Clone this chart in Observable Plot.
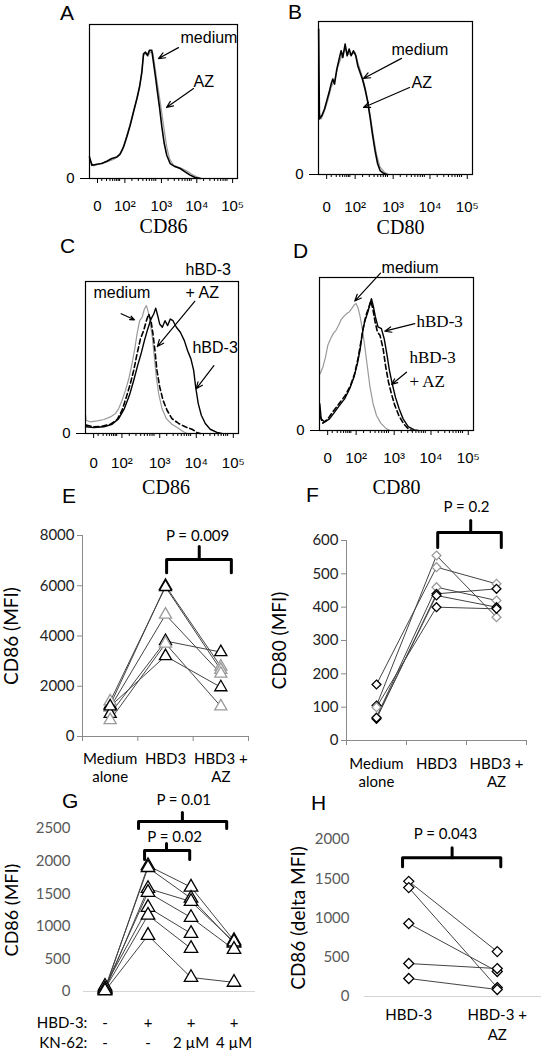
<!DOCTYPE html>
<html><head><meta charset="utf-8">
<script src="https://cdn.jsdelivr.net/npm/d3@7"></script>
<script src="https://cdn.jsdelivr.net/npm/@observablehq/plot@0.6"></script>
<style>
body{margin:0;background:#fff;}
#fig{position:relative;width:542px;height:1050px;overflow:hidden;background:#fff;}
.panel{position:absolute;}
.letter{position:absolute;font-family:"Liberation Sans",Arial,sans-serif;font-size:21px;line-height:1;color:#000;}
</style></head><body><div id="fig"></div><script>
const K = "#000", GR = "#9a9a9a";
const SANS = "'Liberation Sans', Arial, sans-serif";
const SERIF = "'Liberation Serif', 'Times New Roman', serif";
const CAL = "Lato, 'Open Sans', sans-serif";

// ---- flow histogram axis (channel units 0-1000, display decades) ----
const majorTicks = [27, 212, 459, 698, 940];
const majorLabels = ["0", "10\u00B2", "10\u00B3", "10\u2074", "10\u2075"];

// ---- histogram curves: [channel, % of max] ----
const aMedium = [[0,14],[16,8.6],[50,9.3],[83,9.7],[117,11.2],[151,13],[185,14],[207,15.8],[230,20.5],[252,27],[275,34.6],[297,43.2],[320,51.8],[338,59.4],[354,69],[365,81],[378,82],[392,80],[405,83.2],[421,83.2],[432,75.6],[446,65.9],[459,56.2],[473,46.4],[489,33.5],[505,22.7],[522,15.1],[545,9.7],[572,8],[613,6.5],[646,4.3],[680,2.2],[714,0.6],[748,0]];
const aAZ = [[2,11.9],[27,8.2],[72,9.7],[117,10.8],[162,12.3],[196,14.5],[225,19.4],[252,28],[279,36.7],[306,46.4],[329,55],[347,64.8],[365,80],[381,81],[394,79.3],[410,82],[428,81.4],[441,73.4],[455,63.7],[471,54],[486,44.3],[505,31.3],[522,20.5],[540,13],[568,8.6],[613,6.9],[658,4.8],[691,2.8],[725,1.1],[759,0]];
const bMedium = [[1,95],[6,36.3],[22,38.5],[39,42.8],[54,48.3],[69,53.7],[82,59.1],[93,62.4],[104,59.1],[119,68.9],[134,75.4],[147,80.9],[158,76.5],[173,85.2],[186,77.6],[199,82],[212,77.6],[227,80.9],[242,77.6],[255,71.1],[270,66.7],[285,62.4],[302,55.9],[318,48.3],[335,37.4],[350,26.5],[367,15.7],[384,7],[400,2.6],[421,0.9],[443,0]];
const bAZ = [[2,41.7],[17,36.3],[39,41.7],[60,48.3],[82,57],[104,61.3],[125,70],[147,76.5],[173,82],[194,78.7],[216,78.7],[238,79.8],[255,73.3],[276,66.7],[298,59.1],[320,48.3],[341,35.2],[361,22.2],[378,12.4],[400,4.8],[428,1.5],[454,0]];
const cMedium = [[1,12],[4,8.7],[33,7.6],[76,8.3],[120,9.2],[163,10.9],[196,13.1],[217,16.4],[239,21.8],[261,28.4],[283,36],[304,45.9],[322,55.7],[337,65.5],[354,74.2],[370,76.4],[385,81.9],[398,84.1],[411,79.7],[424,72],[437,63.3],[450,50.2],[463,37.1],[478,26.2],[500,16.4],[528,9.8],[565,6.1],[609,3.3],[641,1.1],[663,0]];
const cHBD3AZ = [[4,5.5],[54,4.4],[109,4.8],[163,6.1],[207,9.2],[239,15.3],[267,24],[293,32.8],[315,41.5],[337,52.4],[359,62.2],[380,67.7],[398,74.2],[413,78.6],[428,74.2],[441,65.5],[454,54.6],[467,41.5],[485,30.6],[507,21.8],[533,15.3],[565,9.8],[609,6.6],[652,4.4],[696,2.8],[733,0.4],[750,0]];
const cHBD3 = [[4,4.4],[54,3.9],[120,4.4],[174,6.1],[217,9.8],[254,16.4],[287,25.1],[315,34.9],[341,44.8],[363,52.4],[385,61.1],[407,68.8],[428,75.3],[446,78.6],[459,82.5],[472,77.5],[485,72],[502,69.9],[520,74.2],[537,71],[554,75.3],[572,74.2],[594,69.9],[620,66.6],[646,61.1],[667,54.6],[689,49.1],[707,41.5],[720,30.6],[737,19.7],[757,12],[783,6.6],[815,2.8],[859,0.7],[891,0]];
const dMedium = [[4,37.1],[22,41.5],[39,48],[54,55.7],[72,60],[89,63.3],[107,65.5],[124,68.8],[141,72.5],[159,74.7],[176,76.4],[193,77.5],[209,79.7],[224,81.9],[237,83],[250,80.3],[263,74.7],[278,66.6],[293,55.7],[311,41.5],[328,28.4],[348,17.5],[370,9.8],[398,4.8],[428,1.7],[457,0]];
const dHBD3 = [[2,17.5],[11,7.6],[33,5.5],[65,7.6],[98,12],[130,16.4],[163,20.7],[196,27.3],[224,34.9],[246,43.7],[263,52.4],[278,63.3],[293,71],[311,76.4],[326,81.9],[337,86.2],[348,81.9],[363,74.2],[380,67.7],[402,66.6],[420,60],[437,50.2],[454,39.3],[472,30.6],[493,21.8],[517,14.2],[543,7.6],[576,2.6],[615,0.4],[641,0]];
const dHBD3AZ = [[2,9.8],[22,4.8],[54,7.6],[93,13.1],[130,17.9],[167,22.9],[202,29.5],[228,37.1],[250,47],[267,56.8],[285,67.7],[302,75.3],[320,80.3],[333,84.7],[346,79.7],[361,71],[376,64.4],[393,62.2],[413,53.5],[430,41.5],[448,31.7],[467,24],[489,16.4],[515,9.8],[546,4.4],[576,1.1],[598,0]];

// ---- histogram annotations (channel, %) ----
const aTexts = [{ch:615,pct:91.4,label:"medium",font:"sans"},{ch:703,pct:62.8,label:"AZ",font:"sans"}];
const aArrows = [{x1:601,y1:85,x2:466,y2:77.9},{x1:703,y1:58.4,x2:520,y2:46.1}];
const bTexts = [{ch:474,pct:81.6,label:"medium",font:"sans"},{ch:604,pct:60,label:"AZ",font:"sans"}];
const bArrows = [{x1:539,y1:75.9,x2:292,y2:62.8},{x1:591,y1:56.9,x2:292,y2:43.8}];
const cTexts = [{ch:654,pct:107.7,label:"hBD-3",font:"sans"},{ch:654,pct:92.6,label:"+ AZ",font:"sans"},{ch:52,pct:92.6,label:"medium",font:"sans"},{ch:699,pct:56.4,label:"hBD-3",font:"sans"}];
const cArrows = [{x1:233,y1:78.8,x2:320,y2:74.8},{x1:714,y1:87,x2:469,y2:57.2},{x1:839,y1:44.7,x2:723,y2:29.4}];
const dTexts = [{ch:403,pct:106.4,label:"medium",font:"sans"},{ch:630,pct:71.1,label:"hBD-3",font:"serif"},{ch:584,pct:47.5,label:"hBD-3",font:"serif"},{ch:584,pct:31.8,label:"+ AZ",font:"serif"}];
const dArrows = [{x1:396,y1:102.9,x2:229,y2:84.6},{x1:619,y1:69.8,x2:424,y2:64.9},{x1:565,y1:38.1,x2:468,y2:30.1}];

// ---- panel E ----
const eCats = ["Medium\nalone", "HBD3", "HBD3 +\nAZ"];
const eMedium = [1250, 1400, 1150, 900, 650, 1200];
const eHBD3 = [6000, 5950, 4850, 3800, 3700, 3200];
const eAZ = [2780, 2650, 2500, 3360, 1200, 1960];
const eMedColor = [K, GR, GR, K, GR, K];
const eHBD3Color = [K, K, GR, K, GR, K];
const eAZColor = [GR, GR, GR, K, GR, K];
const eYTicks = [0, 2000, 4000, 6000, 8000];
// ---- panel F ----
const fCats = ["Medium\nalone", "HBD3", "HBD3 +\nAZ"];
const fMedium = [168, 105, 70, 65, 68, 100];
const fHBD3 = [520, 555, 460, 440, 435, 400];
const fAZ = [470, 370, 420, 455, 400, 395];
const fMedColor = [K, K, GR, K, K, GR];
const fHBD3Color = [GR, GR, GR, K, K, K];
const fAZColor = [GR, GR, GR, K, K, K];
const fYTicks = [0, 100, 200, 300, 400, 500, 600];
// ---- panel G ----
const gCats = ["-\n-", "+\n-", "+\n2 \u00B5M", "+\n4 \u00B5M"];
const gRowHeads = "HBD-3:\nKN-62:";
const gNone = [30, 50, 20, 60, 80, 40, 10];
const gHBD3 = [1930, 1900, 1580, 1520, 1290, 1170, 860];
const g2uM = [1600, 1430, 1380, 1135, 890, 660, 215];
const g4uM = [780, 740, 760, 645, null, null, 140];
const gYTicks = [0, 500, 1000, 1500, 2000, 2500];
// ---- panel H ----
const hCats = ["HBD-3", "HBD-3 +\nAZ"];
const hHBD3 = [1467, 1387, 929, 420, 229];
const hAZ = [572, 114, 318, 356, 89];
const hYTicks = [0, 500, 1000, 1500, 2000];

// ---- significance brackets ----
const eBrackets = [{x1:1.02,x2:2.19,xs:1.61,yH:7040,yEnd:6520,yStub:7560,px:1.58,py:7960,label:"P = 0.009"}];
const fBrackets = [{x1:1.02,x2:2.08,xs:1.57,yH:624,yEnd:579,yStub:660,px:1.5,py:699,label:"P = 0.2"}];
const gBrackets = [{x1:0.78,x2:2.83,xs:1.80,yH:2608,yEnd:2500,yStub:2746,px:1.83,py:2930,label:"P = 0.01"},
                   {x1:0.92,x2:1.97,xs:1.43,yH:2163,yEnd:2025,yStub:2270,px:1.62,py:2362,label:"P = 0.02"}];
const hBrackets = [{x1:-0.07,x2:1.04,xs:0.49,yH:1768,yEnd:1654,yStub:1895,px:0.415,py:2073,label:"P = 0.043"}];

// ================= helpers =================
const minorTicks = [];
for (let i = 0; i < majorTicks.length - 1; i++) {
  const a = majorTicks[i], w = majorTicks[i+1] - a;
  for (let m = 2; m <= 9; m++) minorTicks.push(a + w * Math.log10(m));
}
const fig = document.getElementById("fig");
function place(node, left, top, w) {
  const div = document.createElement("div");
  div.className = "panel";
  div.style.left = left + "px"; div.style.top = top + "px"; div.style.width = w + "px";
  div.appendChild(node); fig.appendChild(div);
}

function hist(o) {
  const labelOf = new Map(majorTicks.map((t, i) => [t, majorLabels[i]]));
  const marks = [
    Plot.axisX({ticks: minorTicks, tickSize: 3, tickFormat: () => ""}),
    Plot.axisX({ticks: majorTicks, tickSize: 5, tickPadding: o.tickPad, tickFormat: d => labelOf.get(d), dx: 4, fontSize: 15}),
    Plot.axisY({ticks: [0], tickSize: 9, tickPadding: 6, tickFormat: () => "0", fontSize: 15}),
    ...o.curves.map(c => Plot.line(c.data, {stroke: c.stroke, strokeWidth: c.width, strokeDasharray: c.dash})),
    Plot.frame({stroke: "#000", strokeWidth: 1.2}),
    Plot.text(o.texts.filter(t => t.font === "sans"), {x: "ch", y: "pct", text: "label", textAnchor: "start", fontSize: 16, fontFamily: SANS}),
    Plot.text(o.texts.filter(t => t.font === "serif"), {x: "ch", y: "pct", text: "label", textAnchor: "start", fontSize: 17, fontFamily: SERIF}),
    Plot.arrow(o.arrows, {x1: "x1", y1: "y1", x2: "x2", y2: "y2", stroke: "#000", strokeWidth: 1.2, headLength: 9, headAngle: 45}),
    Plot.text([o.title], {text: d => d, frameAnchor: "bottom", lineAnchor: "middle", textAnchor: "middle", dy: o.titleDy, dx: o.titleDx, fontFamily: SERIF, fontSize: 20})
  ];
  return Plot.plot({
    width: o.width, height: o.height,
    marginLeft: o.ml, marginRight: o.mr, marginTop: o.mt, marginBottom: o.mb,
    x: {domain: [0, 1000]}, y: {domain: [0, 100]},
    style: {fontFamily: SANS, fontSize: "15px", color: "#000", background: "transparent"},
    marks
  });
}

function rowsFrom(series, colors) {
  const rows = [];
  for (let d = 0; d < series[0].length; d++)
    for (let c = 0; c < series.length; c++) {
      const v = series[c][d];
      if (v == null) continue;
      rows.push({donor: d, cat: c, v, color: colors ? colors[c][d] : K});
    }
  return rows;
}

function bracketMarks(list) {
  const m = [];
  for (const b of list) {
    m.push(Plot.line([[b.x1, b.yEnd], [b.x1, b.yH], [b.x2, b.yH], [b.x2, b.yEnd]], {stroke: "#000", strokeWidth: 3, strokeLinejoin: "round", strokeLinecap: "round"}));
    m.push(Plot.line([[b.xs, b.yH], [b.xs, b.yStub]], {stroke: "#000", strokeWidth: 3, strokeLinecap: "round"}));
  }
  m.push(Plot.text(list, {x: "px", y: "py", text: "label", fontSize: 15, fill: "#000"}));
  return m;
}

function dots(o) {
  const n = o.cats.length;
  const AX = "#8a8a8a";
  const marks = [];
  if (o.boxed) {
    marks.push(
      Plot.ruleX([-0.5], {stroke: AX}),
      Plot.ruleY([0], {stroke: AX}),
      Plot.axisY({ticks: o.yTicks, tickSize: 5, tickPadding: o.yPad, tickFormat: d => String(d), stroke: AX, fill: o.tickColor}),
      Plot.axisX({ticks: d3.range(n + 1).map(i => i - 0.5), tickSize: 5, tickFormat: () => "", stroke: AX})
    );
  } else {
    marks.push(
      Plot.ruleY([0], {stroke: "#d4d4d4", strokeWidth: 1.2}),
      Plot.axisY({ticks: o.yTicks, tickSize: 0, tickPadding: o.yPad, tickFormat: d => String(d), fill: o.tickColor})
    );
  }
  marks.push(Plot.axisX({ticks: d3.range(n), tickSize: 0, tickPadding: o.xPad, tickFormat: i => o.cats[i], lineHeight: o.lh, fill: "#000", fontSize: 15}));
  marks.push(Plot.line(o.rows, {x: "cat", y: "v", z: "donor", stroke: "#444", strokeWidth: 1}));
  marks.push(Plot.dot(o.rows, {x: "cat", y: "v", symbol: o.symbol, r: o.r, stroke: "color", fill: "white", strokeWidth: 1.3}));
  marks.push(...bracketMarks(o.brackets));
  marks.push(Plot.text([o.ylabel], {text: d => d, frameAnchor: "left", dx: o.ylabelDx, rotate: -90, textAnchor: "middle", lineAnchor: "middle", fontSize: o.ylabelSize, fill: "#000"}));
  if (o.extra) marks.push(...o.extra);
  return Plot.plot({
    width: o.width, height: o.height,
    marginLeft: o.ml, marginRight: o.mr, marginTop: o.mt, marginBottom: o.mb,
    x: {domain: [-0.5, n - 0.5]}, y: {domain: o.yDomain},
    style: {fontFamily: CAL, fontSize: "15px", color: "#000", background: "transparent"},
    marks
  });
}

// ================= panels =================
place(hist({width: 271, height: 245, ml: 89, mr: 34, mt: 24, mb: 67, tickPad: 17,
  curves: [{data: aAZ, stroke: GR, width: 1.2}, {data: aMedium, stroke: K, width: 1.6}],
  texts: aTexts, arrows: aArrows, title: "CD86", titleDy: 48, titleDx: 0}), 0, 0, 271);
place(hist({width: 271, height: 245, ml: 47, mr: 70, mt: 21, mb: 71, tickPad: 22,
  curves: [{data: bAZ, stroke: GR, width: 1.2}, {data: bMedium, stroke: K, width: 1.6}],
  texts: bTexts, arrows: bArrows, title: "CD80", titleDy: 53, titleDx: 5}), 271, 0, 271);
place(hist({width: 271, height: 270, ml: 85, mr: 33, mt: 51, mb: 67, tickPad: 19,
  curves: [{data: cMedium, stroke: GR, width: 1.2}, {data: cHBD3AZ, stroke: K, width: 1.6, dash: "5,3"}, {data: cHBD3, stroke: K, width: 1.4}],
  texts: cTexts, arrows: cArrows, title: "CD86", titleDy: 54, titleDx: 4}), 0, 230, 271);
place(hist({width: 271, height: 270, ml: 48, mr: 69, mt: 47, mb: 70, tickPad: 17,
  curves: [{data: dMedium, stroke: GR, width: 1.2}, {data: dHBD3AZ, stroke: K, width: 1.6, dash: "5,3"}, {data: dHBD3, stroke: K, width: 1.4}],
  texts: dTexts, arrows: dArrows, title: "CD80", titleDy: 57, titleDx: 0}), 271, 230, 271);

place(dots({width: 271, height: 290, ml: 82, mr: 23, mt: 35, mb: 54, boxed: true,
  cats: eCats, rows: rowsFrom([eMedium, eHBD3, eAZ], [eMedColor, eHBD3Color, eAZColor]),
  yDomain: [0, 8000], yTicks: eYTicks, yPad: 3, tickColor: "#222", xPad: 15, lh: 1.2,
  symbol: "triangle", r: 4.5, brackets: eBrackets, ylabel: "CD86 (MFI)", ylabelDx: -71, ylabelSize: 19}), 0, 500, 271);
place(dots({width: 280, height: 300, ml: 84, mr: 16, mt: 50, mb: 50, boxed: true,
  cats: fCats, rows: rowsFrom([fMedium, fHBD3, fAZ], [fMedColor, fHBD3Color, fAZColor]),
  yDomain: [0, 600], yTicks: fYTicks, yPad: 3, tickColor: "#222", xPad: 16, lh: 1.2,
  symbol: "diamond2", r: 4, brackets: fBrackets, ylabel: "CD80 (MFI)", ylabelDx: -67, ylabelSize: 19}), 262, 490, 280);
place(dots({width: 271, height: 260, ml: 83, mr: 16, mt: 38, mb: 59, boxed: false,
  cats: gCats, rows: rowsFrom([gNone, gHBD3, g2uM, g4uM]),
  yDomain: [0, 2500], yTicks: gYTicks, yPad: 13, tickColor: "#595959", xPad: 22, lh: 1.33,
  symbol: "triangle", r: 5, brackets: gBrackets, ylabel: "CD86 (MFI)", ylabelDx: -71, ylabelSize: 18,
  extra: [Plot.text([gRowHeads], {text: d => d, x: -0.41, y: 0, dy: 22, textAnchor: "end", lineAnchor: "top", lineHeight: 1.33, fontSize: 15, fill: "#000"})]}), 0, 790, 271);
place(dots({width: 271, height: 260, ml: 93, mr: 1, mt: 49, mb: 54, boxed: false,
  cats: hCats, rows: rowsFrom([hHBD3, hAZ]),
  yDomain: [0, 2000], yTicks: hYTicks, yPad: 15, tickColor: "#595959", xPad: 9, lh: 1.33,
  symbol: "diamond2", r: 4.5, brackets: hBrackets, ylabel: "CD86 (delta MFI)", ylabelDx: -66, ylabelSize: 19}), 271, 790, 271);

// panel letters
const letters = [["A",60,2],["B",288,1],["C",60,235],["D",293,240],["E",62,485],["F",306,484],["G",62,790],["H",311,792]];
for (const [t, l, tp] of letters) {
  const s = document.createElement("div");
  s.className = "letter"; s.textContent = t; s.style.left = l + "px"; s.style.top = tp + "px";
  fig.appendChild(s);
}
</script></body></html>
